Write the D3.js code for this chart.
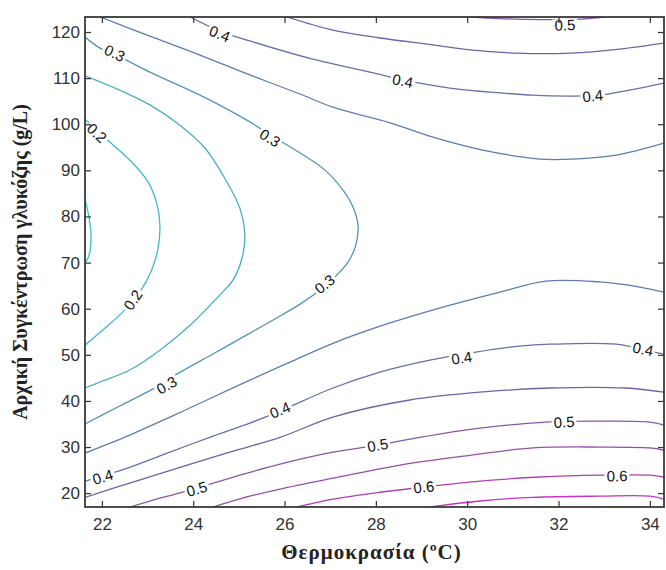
<!DOCTYPE html>
<html>
<head>
<meta charset="utf-8">
<script src="https://cdn.jsdelivr.net/npm/d3@7"></script>
<style>
  body { margin: 0; background: #fff; }
  .tick text { font-family: Arial, "Liberation Sans", sans-serif; font-size: 17px; fill: #333; }
  .tick line { stroke: #333; stroke-width: 1.2; }
  .axis-label { font-family: "Times New Roman", "Liberation Serif", serif; font-weight: bold; font-size: 20px; fill: #222; }
  .clabel { font-family: Arial, "Liberation Sans", sans-serif; font-size: 15px; fill: #111; }
</style>
</head>
<body>
<div id="chart"></div>
<script>
// levels drawn (step 0.05), labels only on the tenths
const levels = [0.15, 0.2, 0.25, 0.3, 0.35, 0.4, 0.45, 0.5, 0.55, 0.6, 0.65];
const xTicks = [22, 24, 26, 28, 30, 32, 34];
const yTicks = [20, 30, 40, 50, 60, 70, 80, 90, 100, 110, 120];

// contour lines: [temperature, glucose]
const c015 = [[21.63,83.6],[21.70,80.7],[21.76,76.4],[21.72,71.6],[21.63,69.9]];
const c020 = [[21.63,101.1],[22.18,96.1],[22.72,91.1],[23.01,87.5],[23.20,82.9],[23.27,78.1],
              [23.23,73.1],[23.09,68.4],[22.83,63.6],[22.50,59.7],[22.07,55.8],[21.63,52.1]];
const c025 = [[21.63,110.5],[22.39,107.4],[23.05,104.2],[23.71,99.8],[24.26,94.8],[24.69,88.3],
              [25.02,81.8],[25.13,76.0],[25.07,71.0],[24.87,66.2],[24.58,62.95],[23.93,56.4],
              [23.27,51.0],[22.61,46.7],[21.96,44.1],[21.63,42.8]];
const c030 = [[21.63,118.9],[21.96,116.5],[22.39,114.6],[23.05,111.3],[24.15,106.3],[25.24,100.5],
              [25.68,97.7],[26.34,93.75],[26.88,90.1],[27.28,85.7],[27.50,82.0],[27.61,78.1],
              [27.56,73.8],[27.39,70.1],[27.10,66.85],[26.77,64.0],[26.34,61.0],[25.74,57.5],
              [25.24,54.7],[24.47,50.4],[23.64,45.8],[23.12,42.6],[22.39,38.9],[21.63,35.0]];
const c035Top = [[21.96,123.25],[23.05,119.1],[24.15,115.0],[25.24,110.7],[26.34,106.55],[27.06,103.7],
                 [28.31,100.3],[29.25,97.2],[30.34,94.4],[31.59,92.45],[32.31,92.45],[33.26,93.3],[34.31,95.9]];
const c035Bottom = [[21.63,28.7],[22.61,32.6],[23.49,36.5],[24.30,40.2],[25.24,44.5],[26.12,48.4],
                    [27.06,52.5],[28.31,56.9],[29.47,60.35],[30.72,63.6],[31.72,66.0],[32.90,65.8],
                    [33.78,64.7],[34.31,63.6]];
const c040Top = [[23.93,123.25],[24.58,120.2],[25.24,118.05],[26.62,114.1],[27.06,113.1],[27.87,111.3],
                 [28.59,109.6],[29.62,107.85],[30.72,106.8],[31.44,106.3],[32.25,106.1],[32.90,106.3],
                 [33.56,107.4],[34.31,108.9]];
const c040Bottom = [[21.63,22.6],[22.61,25.6],[23.49,28.9],[24.36,32.1],[25.24,35.2],[25.90,37.8],
                    [27.06,42.8],[28.09,46.25],[29.18,48.85],[30.19,50.6],[31.15,51.9],[31.81,52.3],
                    [33.26,52.3],[33.91,51.0],[34.31,50.15]];
const c045Top = [[26.05,123.25],[27.06,120.4],[28.09,118.7],[29.25,117.2],[30.06,116.1],[31.07,115.4],
                 [32.25,115.4],[33.34,116.3],[34.31,117.6]];
const c045Bottom = [[21.63,19.1],[22.61,22.2],[23.71,25.6],[24.80,28.9],[25.90,32.1],[27.06,36.5],
                    [28.74,40.2],[30.28,41.9],[31.81,42.8],[33.47,42.8],[34.31,41.9]];
const c050Top = [[30.06,123.25],[30.72,122.9],[31.59,122.7],[32.47,122.8],[33.01,123.25]];
const c050Bottom = [[22.61,17.0],[23.27,18.9],[24.08,21.1],[25.02,23.9],[25.90,26.3],[27.06,28.9],
                    [28.04,30.4],[28.96,32.1],[30.28,34.1],[31.72,35.4],[32.90,35.6],[34.0,35.4],[34.31,34.75]];
const c055 = [[24.43,17.0],[25.24,19.35],[25.90,20.9],[27.06,23.25],[28.53,26.1],[30.06,28.2],
              [31.44,29.8],[32.90,30.0],[34.0,29.8],[34.31,29.3]];
const c060 = [[26.27,17.0],[27.06,18.7],[28.09,20.2],[29.03,21.3],[30.28,22.6],[31.59,23.5],
              [32.90,23.9],[34.0,23.9],[34.31,23.5]];
const c065 = [[29.18,17.0],[30.28,18.3],[31.44,19.1],[32.90,19.35],[34.0,19.35],[34.31,18.7]];

// inline labels: [level, temperature, glucose]
const labelPoints = [
  [0.4, 24.58, 119.6], [0.3, 22.28, 115.4], [0.2, 21.89, 98.1], [0.3, 25.68, 97.0],
  [0.4, 28.59, 109.4], [0.4, 32.75, 106.1], [0.5, 32.14, 121.5], [0.2, 22.68, 61.9],
  [0.3, 26.88, 65.3], [0.3, 23.42, 43.4], [0.4, 29.88, 49.3], [0.4, 33.85, 51.2],
  [0.4, 25.90, 38.0], [0.4, 22.02, 23.5], [0.5, 24.08, 20.9], [0.5, 28.04, 30.4],
  [0.5, 32.12, 35.4], [0.6, 29.05, 21.3], [0.6, 33.28, 23.7]
];

const contours = [
  {level: 0.15, pts: c015}, {level: 0.2, pts: c020}, {level: 0.25, pts: c025},
  {level: 0.3, pts: c030}, {level: 0.35, pts: c035Top}, {level: 0.35, pts: c035Bottom},
  {level: 0.4, pts: c040Top}, {level: 0.4, pts: c040Bottom}, {level: 0.45, pts: c045Top},
  {level: 0.45, pts: c045Bottom}, {level: 0.5, pts: c050Top}, {level: 0.5, pts: c050Bottom},
  {level: 0.55, pts: c055}, {level: 0.6, pts: c060}, {level: 0.65, pts: c065}
];

const width = 666, height = 570;
const margin = {top: 17, right: 2, bottom: 63, left: 85};
const innerWidth = width - margin.left - margin.right;
const innerHeight = height - margin.top - margin.bottom;

const svg = d3.select("#chart").append("svg")
  .attr("width", width)
  .attr("height", height);

const xScale = d3.scaleLinear().domain([21.63, 34.31]).range([0, innerWidth]);
const yScale = d3.scaleLinear().domain([17, 123.25]).range([innerHeight, 0]);

const color = d3.scaleLinear()
  .domain([0.15, 0.25, 0.35, 0.45, 0.55, 0.65])
  .range(["#34c6c8", "#48aec0", "#5e7cb0", "#7062a8", "#9a4cac", "#c434c4"]);

const g = svg.append("g").attr("transform", `translate(${margin.left},${margin.top})`);

g.append("clipPath").attr("id", "plot-clip")
  .append("rect").attr("width", innerWidth).attr("height", innerHeight);

const lineGen = d3.line()
  .x(d => xScale(d[0]))
  .y(d => yScale(d[1]))
  .curve(d3.curveCatmullRom.alpha(0.5));

const linesG = g.append("g").attr("clip-path", "url(#plot-clip)");
linesG.selectAll("path").data(contours).enter().append("path")
  .attr("d", d => lineGen(d.pts))
  .attr("fill", "none")
  .attr("stroke", d => color(d.level))
  .attr("stroke-width", 1.3);

// labels: rotate along the nearest part of their contour
const labelAngle = (lev, px, py) => {
  let best = null, bestD = Infinity;
  contours.filter(c => Math.abs(c.level - lev) < 1e-6).forEach(c => {
    const p = c.pts.map(d => [xScale(d[0]), yScale(d[1])]);
    p.forEach((q, i) => {
      const dd = (q[0] - px) ** 2 + (q[1] - py) ** 2;
      if (dd < bestD) { bestD = dd; best = {p, i}; }
    });
  });
  const a = best.p[Math.max(best.i - 1, 0)], b = best.p[Math.min(best.i + 1, best.p.length - 1)];
  let ang = Math.atan2(b[1] - a[1], b[0] - a[0]) * 180 / Math.PI;
  if (ang > 90) ang -= 180;
  if (ang < -90) ang += 180;
  return ang;
};

const fmt = d3.format(".1f");
const labG = g.append("g");
labelPoints.forEach(d => {
  const px = xScale(d[1]), py = yScale(d[2]);
  const ang = labelAngle(d[0], px, py);
  const lg = labG.append("g").attr("transform", `translate(${px},${py}) rotate(${ang})`);
  const bg = lg.append("rect").attr("fill", "#fff");
  const t = lg.append("text").attr("class", "clabel")
    .attr("text-anchor", "middle").attr("dy", "0.35em").text(fmt(d[0]));
  const w = t.node().getComputedTextLength();
  bg.attr("x", -w / 2 - 2).attr("y", -6).attr("width", w + 4).attr("height", 12);
});

// axes, ticks pointing inward
const xAxis = d3.axisBottom(xScale).tickValues(xTicks).tickSizeInner(-6).tickSizeOuter(0).tickPadding(11);
const yAxis = d3.axisLeft(yScale).tickValues(yTicks).tickSizeInner(-6).tickSizeOuter(0).tickPadding(5);

const xAxisG = g.append("g").attr("transform", `translate(0,${innerHeight})`).call(xAxis);
const yAxisG = g.append("g").call(yAxis);
const xTopG = g.append("g").call(d3.axisTop(xScale).tickValues(xTicks).tickSizeInner(-6).tickSizeOuter(0));
const yRightG = g.append("g").attr("transform", `translate(${innerWidth},0)`)
  .call(d3.axisRight(yScale).tickValues(yTicks).tickSizeInner(-6).tickSizeOuter(0));

[xAxisG, yAxisG, xTopG, yRightG].forEach(a => a.select(".domain").remove());
xTopG.selectAll("text").remove();
yRightG.selectAll("text").remove();

g.append("rect")
  .attr("width", innerWidth).attr("height", innerHeight)
  .attr("fill", "none").attr("stroke", "#3a3a3a").attr("stroke-width", 1.8);

svg.append("text")
  .attr("class", "axis-label")
  .attr("x", margin.left + innerWidth / 2 - 3)
  .attr("y", 559)
  .attr("text-anchor", "middle")
  .style("font-size", "21px")
  .style("letter-spacing", "1px")
  .text("Θερμοκρασία  (ºC)");

svg.append("text")
  .attr("class", "axis-label")
  .attr("text-anchor", "middle")
  .attr("transform", "translate(27,262) rotate(-90)")
  .text("Αρχική Συγκέντρωση γλυκόζης (g/L)");
</script>
</body>
</html>
